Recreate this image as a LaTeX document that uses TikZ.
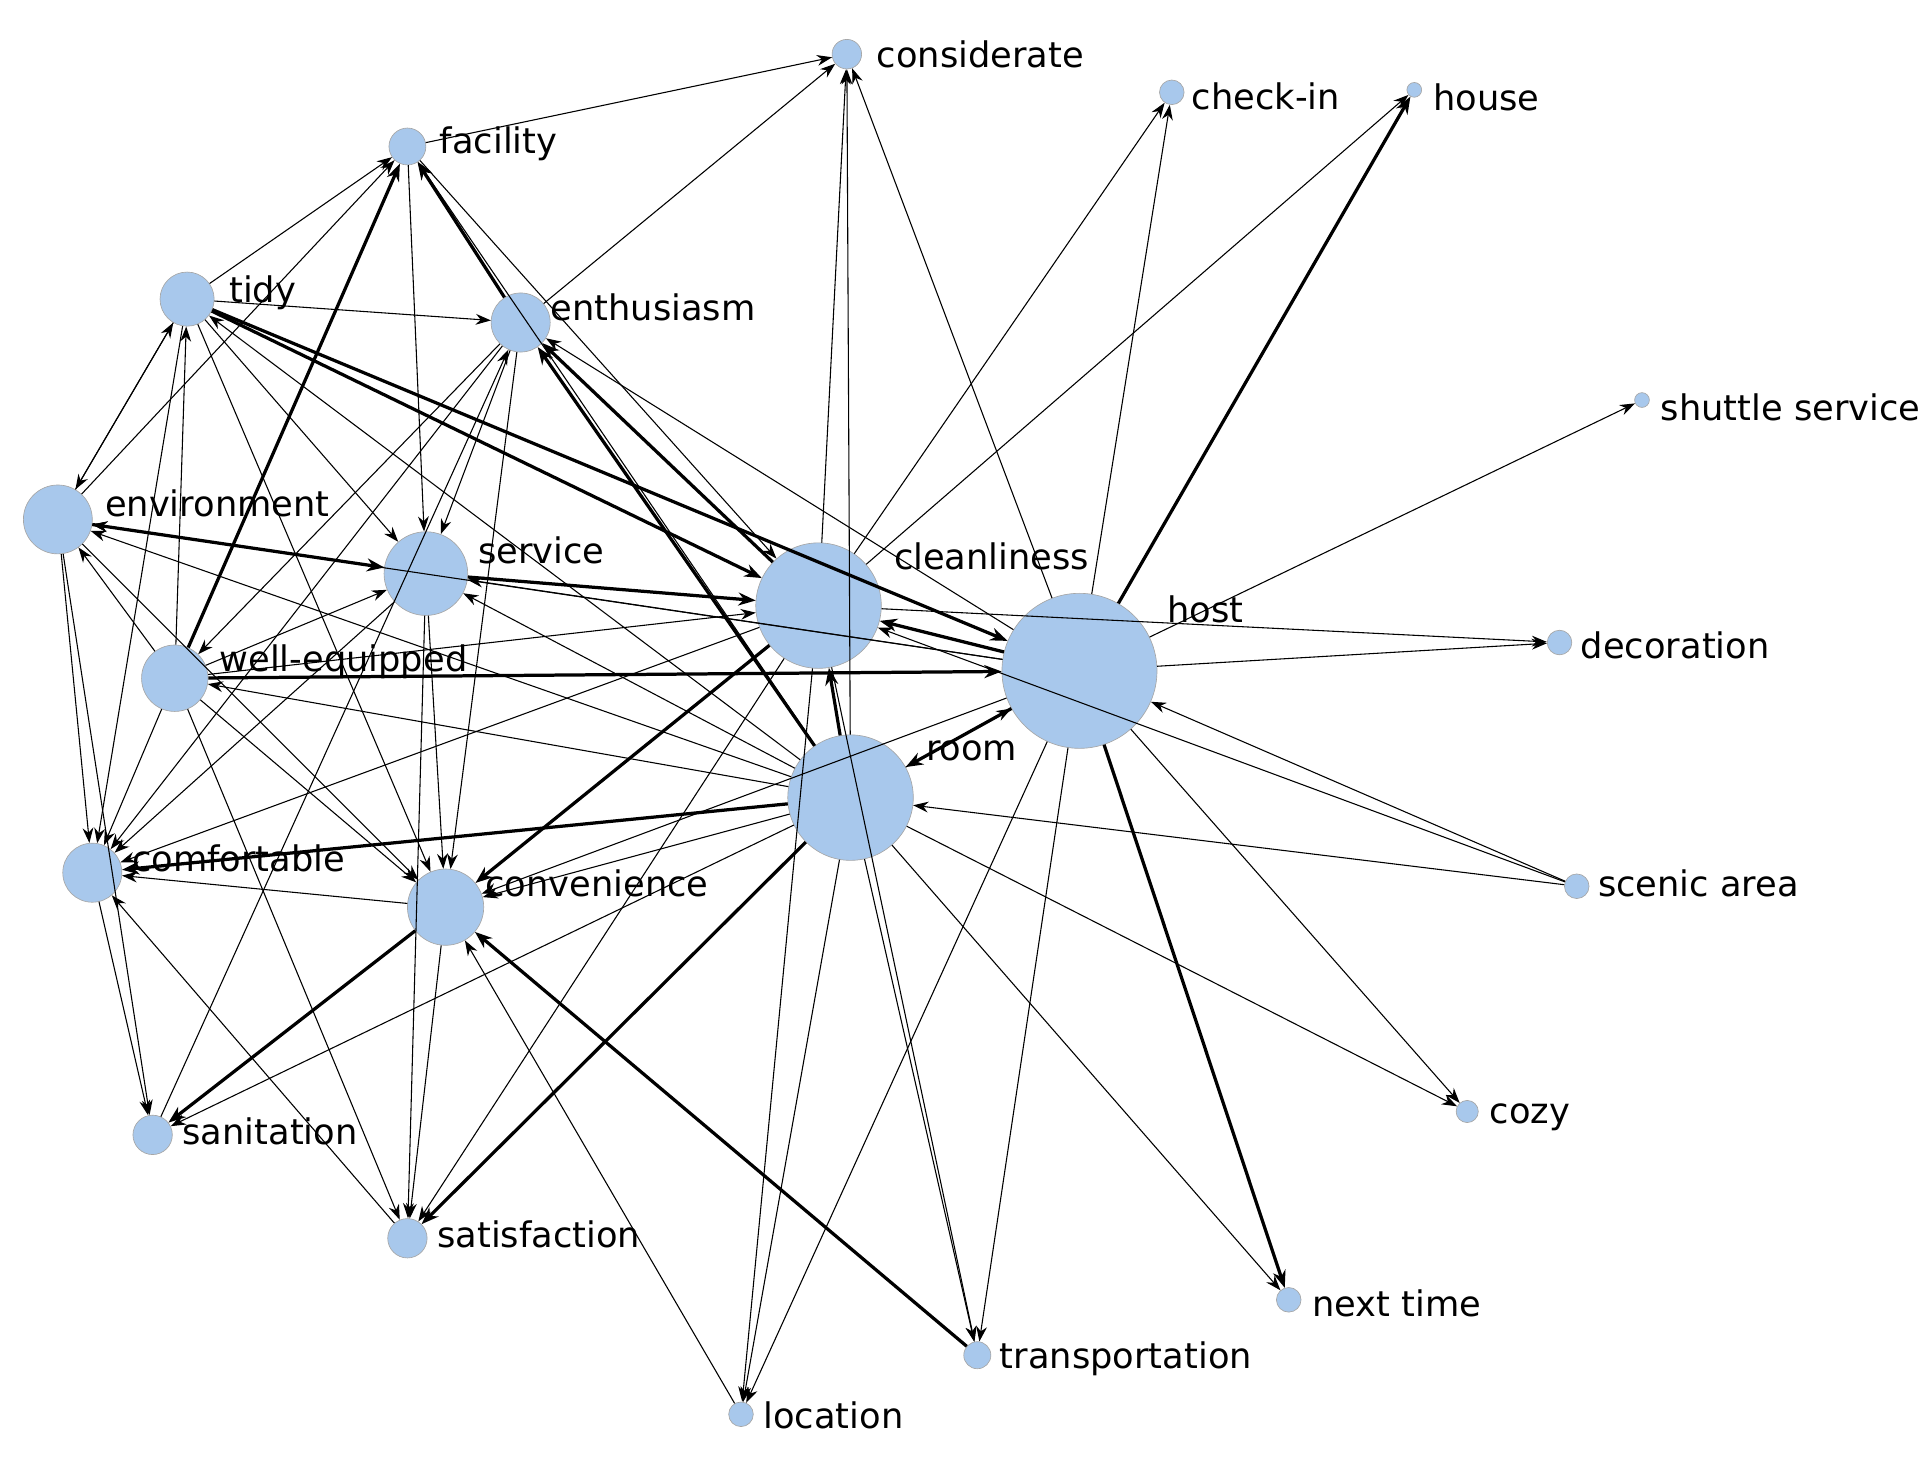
\documentclass[tikz,border=0pt]{standalone}
\usepackage{fontspec}
\setmainfont{DejaVu Sans}
\usetikzlibrary{arrows.meta}
\definecolor{nodeblue}{RGB}{168,200,236}
\begin{document}
\begin{tikzpicture}[x=0.02cm,y=-0.02cm,
  v/.style={circle,fill=nodeblue,draw=gray!70,line width=0.3pt,inner sep=0pt,minimum size=#1*0.04cm},
  lab/.style={anchor=west,font=\fontsize{16.3}{18}\selectfont,inner sep=0pt},
  e/.style={-{Stealth[length=7pt,width=5pt]},line width=0.5pt},
  t/.style={-{Stealth[length=8pt,width=6pt]},line width=1.5pt}]
\useasboundingbox (0,0) rectangle (1568,1184);
\foreach \n/\x/\y/\r/\lx/\ly/\t in {
 considerate/688/44/12/712/44/considerate, checkin/952/75/10/968/78/check-in, house/1149/73/6/1164/79/house,
 facility/331/119/15/357/117/facility, tidy/152/243/22/186/238/tidy, enthusiasm/423/262/24/447/250/enthusiasm,
 shuttle/1334/325/6/1349/331/shuttle service, environment/47/422/28/85/409/environment, service/346/466/34/388/447/service,
 cleanliness/665/492/51/726/452/cleanliness, host/877/545/63/948/495/host, decoration/1267/522/10/1284/524/decoration,
 wellequipped/142/551/27/178/538/well-equipped, room/691/648/51/752/610/room, comfortable/75/709/24/107/697/comfortable,
 convenience/362/737/31/394/718/convenience, scenic/1281/720/10/1298/718/scenic area, sanitation/124/922/16/148/919/sanitation,
 cozy/1192/903/9/1210/908/cozy, satisfaction/331/1006/16/355/1003/satisfaction, nexttime/1047/1056/10/1066/1059/next time,
 transportation/794/1101/11/812/1104/transportation, location/602/1149/10/620/1150/location}
 {\node[v=\r] (\n) at (\x,\y) {};
  \node[lab] (\n-l) at (\lx,\ly) {\t};}
% thick edges
\foreach \a/\b in {host/cleanliness, host/house, host/nexttime, cleanliness/enthusiasm, cleanliness/convenience,
 room/cleanliness, room/enthusiasm, room/comfortable, convenience/sanitation, transportation/convenience,
 tidy/cleanliness, environment/service, wellequipped/host, host/room, room/satisfaction, service/cleanliness,
 wellequipped/facility, enthusiasm/facility, tidy/host}
 \draw[t] (\a) -- (\b);
% thin edges
\foreach \a/\b in {host/service, host/enthusiasm, host/environment, host/checkin, host/shuttle,
 host/decoration, host/cozy, host/transportation, host/location, host/considerate, host/convenience,
 cleanliness/considerate, cleanliness/checkin, cleanliness/house, cleanliness/comfortable, cleanliness/decoration,
 room/host, room/tidy, room/service, room/environment, room/wellequipped, room/convenience, room/sanitation,
 room/transportation, room/location, room/nexttime, room/cozy, room/considerate, room/facility,
 scenic/host, scenic/room, scenic/cleanliness,
 wellequipped/tidy, wellequipped/comfortable, wellequipped/service, wellequipped/environment, wellequipped/cleanliness,
 wellequipped/satisfaction, wellequipped/convenience,
 environment/facility, environment/tidy, environment/comfortable, environment/sanitation, environment/convenience,
 facility/service, tidy/service, enthusiasm/service, service/convenience, service/satisfaction, service/comfortable,
 tidy/facility, tidy/comfortable, tidy/environment, tidy/convenience, tidy/enthusiasm,
 enthusiasm/considerate, enthusiasm/comfortable, enthusiasm/convenience, enthusiasm/wellequipped,
 convenience/comfortable, convenience/satisfaction, location/convenience, comfortable/sanitation,
 satisfaction/comfortable, sanitation/enthusiasm, facility/considerate, cleanliness/satisfaction,
 cleanliness/transportation, cleanliness/location, facility/cleanliness, service/environment}
 \draw[e] (\a) -- (\b);
\end{tikzpicture}
\end{document}
